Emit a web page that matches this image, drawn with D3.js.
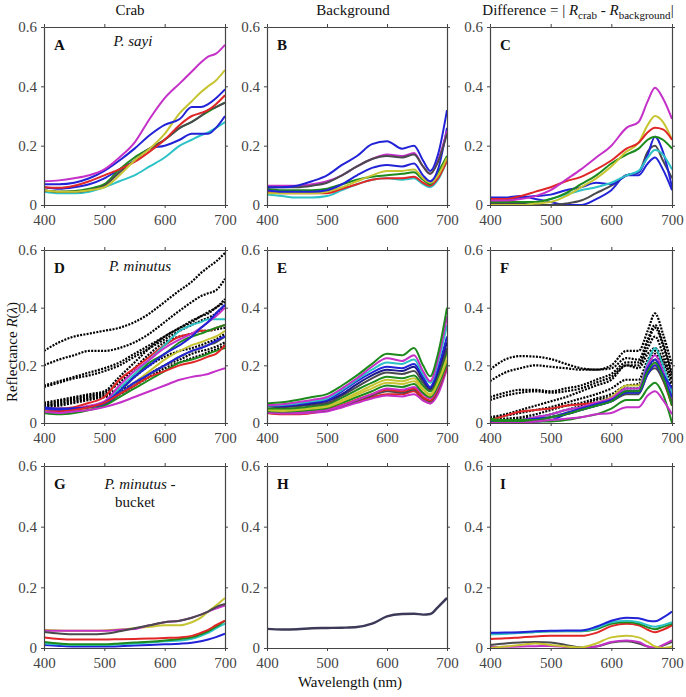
<!DOCTYPE html>
<html><head><meta charset="utf-8">
<script src="https://cdn.jsdelivr.net/npm/d3@7"></script>
<style>body{margin:0;background:#fff} svg text{font-family:"Liberation Serif","LiberationSerif","Tinos","Times New Roman","DejaVu Serif","Noto Serif",serif !important}</style>
</head><body><svg id="c" width="686" height="697"></svg>
<script>
// Wavelength sample points (nm)
const wavelengths = [400,425,450,475,500,525,550,575,600,625,645,660,672,685,700];
const xTicks = [400,500,600,700];
const yTicks = [0,0.2,0.4,0.6];
const colTitles = ["Crab","Background","Difference"];
const panelLetters = ["A","B","C","D","E","F","G","H","I"];

// Panel A: P. sayi crab
const panelA = [
 ["cyan",   [0.045,0.04,0.04,0.045,0.06,0.08,0.10,0.13,0.16,0.20,0.22,0.235,0.245,0.26,0.28]],
 ["blue",   [0.06,0.055,0.06,0.07,0.09,0.12,0.15,0.19,0.20,0.22,0.24,0.24,0.24,0.26,0.30]],
 ["green",  [0.05,0.045,0.047,0.055,0.07,0.12,0.16,0.19,0.22,0.26,0.28,0.30,0.315,0.33,0.345]],
 ["gray",   [0.05,0.045,0.045,0.05,0.065,0.11,0.15,0.19,0.22,0.26,0.28,0.30,0.32,0.33,0.345]],
 ["red",    [0.06,0.058,0.065,0.08,0.10,0.12,0.145,0.18,0.22,0.27,0.30,0.31,0.32,0.34,0.37]],
 ["yellow", [0.05,0.045,0.045,0.05,0.06,0.10,0.15,0.19,0.24,0.31,0.35,0.38,0.40,0.42,0.455]],
 ["blue",   [0.07,0.07,0.075,0.09,0.115,0.15,0.19,0.235,0.27,0.29,0.33,0.33,0.34,0.36,0.39]],
 ["magenta",[0.08,0.083,0.09,0.10,0.12,0.16,0.21,0.29,0.36,0.41,0.45,0.48,0.50,0.51,0.54]]
];
// Panel B: background for P. sayi
const panelB = [
 ["cyan",   [0.035,0.03,0.025,0.025,0.03,0.05,0.07,0.085,0.09,0.085,0.09,0.07,0.06,0.085,0.15]],
 ["red",    [0.045,0.04,0.04,0.04,0.04,0.055,0.07,0.085,0.09,0.09,0.095,0.075,0.065,0.09,0.15]],
 ["green",  [0.055,0.05,0.05,0.05,0.055,0.07,0.085,0.095,0.10,0.105,0.11,0.085,0.07,0.11,0.165]],
 ["yellow", [0.04,0.04,0.04,0.04,0.045,0.06,0.08,0.10,0.115,0.115,0.12,0.09,0.075,0.10,0.16]],
 ["blue",   [0.05,0.045,0.045,0.045,0.05,0.07,0.10,0.125,0.135,0.13,0.14,0.10,0.08,0.12,0.26]],
 ["magenta",[0.065,0.065,0.065,0.07,0.08,0.10,0.13,0.155,0.17,0.165,0.175,0.13,0.105,0.15,0.25]],
 ["gray",   [0.06,0.06,0.06,0.065,0.075,0.10,0.13,0.155,0.165,0.16,0.17,0.13,0.105,0.145,0.24]],
 ["blue",   [0.06,0.06,0.065,0.08,0.10,0.135,0.165,0.205,0.215,0.19,0.20,0.15,0.115,0.17,0.32]]
];
// Panel C: difference for P. sayi
const panelC = [
 ["blue",   [0.025,0.025,0.03,0.02,0.01,0.0,0.0,0.02,0.05,0.10,0.10,0.14,0.16,0.12,0.05]],
 ["gray",   [0.005,0.005,0.005,0.0,0.0,0.005,0.015,0.04,0.065,0.10,0.11,0.18,0.20,0.15,0.09]],
 ["blue",   [0.02,0.02,0.025,0.03,0.035,0.05,0.06,0.075,0.07,0.10,0.11,0.17,0.23,0.18,0.06]],
 ["cyan",   [0.01,0.01,0.01,0.01,0.02,0.035,0.05,0.06,0.075,0.10,0.115,0.16,0.185,0.17,0.12]],
 ["green",  [0.01,0.01,0.01,0.01,0.02,0.04,0.07,0.10,0.14,0.17,0.19,0.22,0.23,0.22,0.19]],
 ["yellow", [0.0,0.0,0.0,0.005,0.01,0.03,0.06,0.09,0.13,0.18,0.21,0.27,0.30,0.28,0.22]],
 ["red",    [0.02,0.02,0.03,0.045,0.06,0.08,0.095,0.12,0.15,0.19,0.21,0.245,0.26,0.255,0.22]],
 ["magenta",[0.015,0.015,0.02,0.03,0.05,0.085,0.12,0.16,0.20,0.26,0.28,0.35,0.395,0.36,0.29]]
];
// Panel D: P. minutus crab (black dotted + coloured)
const panelD = [
 ["black",  [0.25,0.28,0.30,0.31,0.32,0.33,0.35,0.38,0.42,0.46,0.49,0.52,0.54,0.56,0.59]],
 ["black",  [0.20,0.22,0.235,0.25,0.25,0.26,0.28,0.31,0.35,0.39,0.42,0.44,0.45,0.46,0.50]],
 ["black",  [0.13,0.145,0.16,0.175,0.19,0.21,0.24,0.27,0.30,0.33,0.355,0.37,0.385,0.40,0.43]],
 ["black",  [0.125,0.14,0.155,0.165,0.18,0.20,0.23,0.26,0.29,0.32,0.34,0.355,0.365,0.38,0.41]],
 ["black",  [0.07,0.08,0.09,0.10,0.11,0.16,0.21,0.26,0.30,0.33,0.35,0.37,0.38,0.40,0.42]],
 ["black",  [0.065,0.075,0.085,0.095,0.105,0.14,0.19,0.24,0.28,0.30,0.31,0.32,0.32,0.325,0.33]],
 ["black",  [0.06,0.07,0.08,0.09,0.10,0.12,0.16,0.20,0.23,0.25,0.26,0.27,0.28,0.29,0.31]],
 ["black",  [0.06,0.065,0.075,0.085,0.095,0.11,0.14,0.17,0.20,0.22,0.24,0.25,0.255,0.265,0.28]],
 ["black",  [0.055,0.06,0.07,0.08,0.09,0.10,0.13,0.16,0.19,0.21,0.225,0.235,0.245,0.255,0.27]],
 ["red",    [0.05,0.05,0.055,0.07,0.09,0.15,0.19,0.23,0.27,0.30,0.31,0.32,0.32,0.33,0.34]],
 ["cyan",   [0.045,0.04,0.045,0.055,0.07,0.12,0.17,0.22,0.27,0.32,0.34,0.35,0.36,0.36,0.36]],
 ["green",  [0.045,0.045,0.05,0.055,0.065,0.11,0.16,0.21,0.24,0.28,0.30,0.31,0.32,0.33,0.34]],
 ["yellow", [0.045,0.04,0.045,0.05,0.065,0.10,0.14,0.18,0.22,0.25,0.27,0.28,0.29,0.30,0.32]],
 ["gray",   [0.05,0.045,0.05,0.055,0.07,0.10,0.13,0.17,0.20,0.23,0.25,0.26,0.27,0.28,0.30]],
 ["magenta",[0.05,0.045,0.05,0.06,0.075,0.13,0.18,0.22,0.26,0.29,0.31,0.33,0.35,0.37,0.40]],
 ["blue",   [0.055,0.05,0.05,0.055,0.07,0.11,0.16,0.20,0.24,0.27,0.30,0.33,0.35,0.38,0.41]],
 ["blue",   [0.05,0.045,0.05,0.055,0.065,0.10,0.14,0.17,0.20,0.23,0.25,0.26,0.27,0.285,0.30]],
 ["green",  [0.035,0.03,0.035,0.045,0.06,0.09,0.12,0.15,0.18,0.21,0.22,0.23,0.24,0.25,0.26]],
 ["red",    [0.04,0.04,0.045,0.055,0.07,0.10,0.13,0.16,0.18,0.20,0.21,0.22,0.23,0.24,0.27]],
 ["magenta",[0.04,0.035,0.04,0.045,0.055,0.07,0.09,0.11,0.13,0.15,0.16,0.165,0.17,0.18,0.19]]
];
// Panel E: background for P. minutus
const panelE = [
 ["red",    [0.035,0.03,0.03,0.035,0.045,0.06,0.075,0.09,0.10,0.10,0.11,0.08,0.068,0.11,0.19]],
 ["magenta",[0.036,0.033,0.033,0.036,0.04,0.054,0.07,0.085,0.095,0.092,0.10,0.078,0.068,0.10,0.19]],
 ["gray",   [0.04,0.038,0.038,0.04,0.045,0.06,0.078,0.095,0.11,0.105,0.115,0.088,0.075,0.115,0.20]],
 ["red",    [0.045,0.04,0.04,0.042,0.048,0.063,0.082,0.10,0.115,0.11,0.12,0.09,0.078,0.12,0.20]],
 ["magenta",[0.04,0.036,0.035,0.04,0.045,0.06,0.08,0.10,0.12,0.115,0.125,0.10,0.085,0.125,0.21]],
 ["green",  [0.042,0.04,0.042,0.046,0.052,0.07,0.09,0.11,0.13,0.125,0.135,0.105,0.09,0.13,0.21]],
 ["yellow", [0.045,0.042,0.045,0.05,0.056,0.075,0.098,0.12,0.14,0.135,0.145,0.115,0.095,0.14,0.22]],
 ["yellow", [0.048,0.045,0.048,0.052,0.06,0.08,0.105,0.13,0.15,0.145,0.155,0.12,0.10,0.15,0.24]],
 ["green",  [0.05,0.05,0.052,0.058,0.065,0.088,0.115,0.14,0.16,0.155,0.165,0.13,0.11,0.16,0.25]],
 ["gray",   [0.058,0.055,0.058,0.063,0.07,0.095,0.125,0.155,0.175,0.17,0.18,0.14,0.115,0.17,0.26]],
 ["navy",   [0.06,0.058,0.062,0.068,0.076,0.10,0.135,0.165,0.185,0.18,0.195,0.15,0.12,0.18,0.28]],
 ["blue",   [0.064,0.06,0.065,0.072,0.08,0.11,0.145,0.175,0.195,0.19,0.205,0.16,0.125,0.19,0.30]],
 ["cyan",   [0.06,0.062,0.068,0.075,0.085,0.115,0.15,0.185,0.21,0.205,0.22,0.17,0.14,0.21,0.34]],
 ["magenta",[0.062,0.065,0.072,0.08,0.09,0.12,0.155,0.195,0.225,0.215,0.235,0.18,0.145,0.22,0.37]],
 ["green",  [0.068,0.072,0.08,0.09,0.10,0.13,0.165,0.205,0.24,0.235,0.26,0.20,0.162,0.24,0.40]]
];
// Panel F: difference for P. minutus
const panelF = [
 ["black",  [0.185,0.22,0.232,0.23,0.222,0.205,0.19,0.185,0.20,0.25,0.25,0.32,0.38,0.31,0.20]],
 ["black",  [0.145,0.175,0.19,0.20,0.195,0.19,0.185,0.185,0.19,0.225,0.22,0.29,0.34,0.28,0.17]],
 ["black",  [0.09,0.105,0.115,0.115,0.11,0.12,0.13,0.15,0.17,0.21,0.21,0.28,0.33,0.27,0.16]],
 ["black",  [0.08,0.095,0.105,0.11,0.105,0.11,0.12,0.14,0.16,0.20,0.20,0.26,0.30,0.24,0.14]],
 ["black",  [0.02,0.03,0.045,0.06,0.075,0.09,0.11,0.13,0.15,0.20,0.19,0.24,0.26,0.22,0.15]],
 ["black",  [0.015,0.025,0.035,0.045,0.055,0.07,0.085,0.10,0.12,0.15,0.15,0.22,0.25,0.21,0.12]],
 ["black",  [0.01,0.015,0.02,0.03,0.045,0.06,0.07,0.085,0.10,0.13,0.135,0.20,0.24,0.19,0.10]],
 ["black",  [0.005,0.01,0.015,0.02,0.03,0.045,0.06,0.08,0.09,0.12,0.12,0.19,0.22,0.17,0.08]],
 ["red",    [0.01,0.025,0.04,0.045,0.05,0.06,0.065,0.07,0.08,0.11,0.11,0.17,0.20,0.15,0.06]],
 ["yellow", [0.005,0.005,0.01,0.015,0.02,0.035,0.05,0.07,0.09,0.13,0.13,0.20,0.22,0.17,0.08]],
 ["cyan",   [0.01,0.005,0.01,0.02,0.03,0.045,0.055,0.065,0.08,0.12,0.12,0.21,0.26,0.20,0.10]],
 ["magenta",[0.005,0.005,0.01,0.02,0.03,0.045,0.055,0.07,0.085,0.12,0.12,0.20,0.235,0.18,0.08]],
 ["gray",   [0.005,0.005,0.005,0.01,0.02,0.03,0.045,0.06,0.075,0.10,0.10,0.17,0.19,0.15,0.07]],
 ["blue",   [0.01,0.01,0.01,0.015,0.02,0.035,0.05,0.065,0.08,0.11,0.11,0.19,0.22,0.17,0.12]],
 ["blue",   [0.005,0.0,0.0,0.005,0.01,0.03,0.045,0.06,0.075,0.105,0.105,0.17,0.20,0.16,0.09]],
 ["green",  [0.015,0.01,0.01,0.01,0.02,0.03,0.045,0.06,0.075,0.11,0.11,0.18,0.21,0.16,0.06]],
 ["green",  [0.01,0.005,0.005,0.005,0.005,0.01,0.02,0.03,0.05,0.08,0.08,0.12,0.14,0.10,0.0]],
 ["magenta",[0.0,0.0,0.0,0.005,0.01,0.015,0.02,0.03,0.035,0.055,0.055,0.095,0.11,0.08,0.03]]
];
// Panel G: P. minutus - bucket crab
const panelG = [
 ["blue",   [0.01,0.007,0.005,0.005,0.005,0.006,0.008,0.01,0.012,0.014,0.017,0.022,0.028,0.036,0.047]],
 ["cyan",   [0.015,0.012,0.01,0.01,0.01,0.012,0.015,0.018,0.022,0.025,0.03,0.04,0.05,0.065,0.08]],
 ["green",  [0.02,0.015,0.012,0.012,0.012,0.015,0.018,0.021,0.025,0.03,0.035,0.045,0.055,0.07,0.09]],
 ["red",    [0.035,0.03,0.028,0.028,0.028,0.029,0.03,0.031,0.033,0.035,0.04,0.05,0.06,0.075,0.09]],
 ["yellow", [0.06,0.058,0.057,0.057,0.058,0.061,0.065,0.07,0.075,0.075,0.085,0.10,0.12,0.14,0.165]],
 ["magenta",[0.058,0.057,0.057,0.057,0.057,0.06,0.063,0.075,0.085,0.09,0.10,0.11,0.12,0.13,0.14]],
 ["gray",   [0.053,0.048,0.045,0.045,0.047,0.055,0.065,0.075,0.085,0.09,0.10,0.11,0.12,0.135,0.145]]
];
// Panel H: bucket background
const panelH = [
 ["dark",   [0.063,0.061,0.062,0.065,0.066,0.067,0.069,0.08,0.104,0.112,0.113,0.11,0.112,0.135,0.165]]
];
// Panel I: difference for bucket
const panelI = [
 ["gray",   [0.01,0.015,0.018,0.02,0.018,0.01,0.002,0.005,0.018,0.022,0.015,0.005,0.0,0.008,0.02]],
 ["magenta",[0.003,0.004,0.005,0.006,0.007,0.003,0.0,0.005,0.02,0.025,0.02,0.005,0.0,0.01,0.025]],
 ["yellow", [0.0,0.005,0.01,0.015,0.01,0.005,0.002,0.015,0.035,0.04,0.035,0.02,0.005,0.0,0.005]],
 ["red",    [0.03,0.032,0.035,0.038,0.04,0.04,0.04,0.05,0.072,0.08,0.075,0.06,0.052,0.06,0.075]],
 ["green",  [0.048,0.049,0.05,0.053,0.055,0.055,0.055,0.062,0.08,0.085,0.08,0.068,0.062,0.07,0.08]],
 ["cyan",   [0.045,0.047,0.05,0.053,0.055,0.056,0.056,0.065,0.085,0.09,0.085,0.075,0.07,0.075,0.085]],
 ["blue",   [0.05,0.051,0.052,0.055,0.057,0.058,0.058,0.07,0.09,0.10,0.098,0.09,0.088,0.10,0.12]]
];

const colors = {blue:"#2222d6", navy:"#1a1a8c", red:"#e02626", green:"#1c8a1c", cyan:"#2cc2c6",
  magenta:"#c430c8", yellow:"#c6c430", gray:"#4a4a4e", dark:"#3c3a58", black:"#000000"};

const colsX = [[44,225],[267,447],[490,672]];
const rowsY = [[27,205],[250,423],[466,648]];
const allPanels = [panelA,panelB,panelC,panelD,panelE,panelF,panelG,panelH,panelI];
const FONT = "'Liberation Serif','LiberationSerif','Tinos','Times New Roman','DejaVu Serif','Noto Serif',serif";

const svg = d3.select("#c").attr("font-family", FONT);
const defs = svg.append("defs");

allPanels.forEach((series, i) => {
  const r = Math.floor(i/3), c = i%3;
  const [x0,x1] = colsX[c], [y0,y1] = rowsY[r];
  const x = d3.scaleLinear().domain([400,700]).range([x0,x1]);
  const y = d3.scaleLinear().domain([0,0.6]).range([y1,y0]);
  const g = svg.append("g");
  defs.append("clipPath").attr("id","cp"+i).append("rect")
    .attr("x",x0).attr("y",y0).attr("width",x1-x0).attr("height",y1-y0);
  const line = d3.line().x((d,k)=>x(wavelengths[k])).y(d=>y(d)).curve(d3.curveMonotoneX);
  const lg = g.append("g").attr("clip-path","url(#cp"+i+")");
  series.forEach(([col, vals]) => {
    const p = lg.append("path").attr("d", line(vals)).attr("fill","none")
      .attr("stroke", colors[col]).attr("stroke-width", col==="dark"?2.4:2);
    if (col==="black") p.attr("stroke-dasharray","2,1.3").attr("stroke-width",2.2);
  });
  const axStyle = a => {
    a.attr("font-family", FONT);
    a.selectAll("path").attr("stroke","#444").attr("stroke-width",1.2);
    a.selectAll("line").attr("stroke","#444");
    a.selectAll("text").attr("fill","#444").style("font-size","15px");
  };
  g.append("g").attr("transform",`translate(0,${y1})`)
    .call(d3.axisBottom(x).tickValues(xTicks).tickSize(3).tickPadding(6).tickSizeOuter(0)).call(axStyle);
  g.append("g").attr("transform",`translate(0,${y0})`)
    .call(d3.axisTop(x).tickValues(xTicks).tickSize(3).tickFormat("").tickSizeOuter(0)).call(axStyle);
  g.append("g").attr("transform",`translate(${x0},0)`)
    .call(d3.axisLeft(y).tickValues(yTicks).tickSize(3).tickPadding(4).tickSizeOuter(0)
      .tickFormat(d=>d===0?"0":d.toFixed(1))).call(axStyle);
  g.append("g").attr("transform",`translate(${x1},0)`)
    .call(d3.axisRight(y).tickValues(yTicks).tickSize(3).tickFormat("").tickSizeOuter(0)).call(axStyle);
  g.append("text").attr("x",x0+10).attr("y",y0+23).text(panelLetters[i])
    .style("font-weight","bold").style("font-size","15px").attr("fill","#111");
});

const lab = (x,y,t,italic) => svg.append("text").attr("x",x).attr("y",y).attr("text-anchor","middle")
  .style("font-size","15px").style("font-style",italic?"italic":"normal").attr("fill","#111").text(t);
lab(133,46,"P. sayi",true);
lab(140,271,"P. minutus",true);
const gl = svg.append("text").attr("x",140).attr("y",489).attr("text-anchor","middle").style("font-size","15px").attr("fill","#111");
gl.append("tspan").style("font-style","italic").text("P. minutus");
gl.append("tspan").text(" -");
lab(135,507,"bucket",false);

lab(130,15,colTitles[0],false);
lab(353,15,colTitles[1],false);
const t3 = svg.append("text").attr("x",578).attr("y",15).attr("text-anchor","middle").style("font-size","15px").attr("fill","#111");
t3.append("tspan").text(colTitles[2]+" = | ");
t3.append("tspan").style("font-style","italic").text("R");
t3.append("tspan").attr("dy",4).style("font-size","11px").text("crab");
t3.append("tspan").attr("dy",-4).text(" - ");
t3.append("tspan").style("font-style","italic").text("R");
t3.append("tspan").attr("dy",4).style("font-size","11px").text("background");
t3.append("tspan").attr("dy",-4).text("|");

const yl = svg.append("text").attr("transform","translate(17,352) rotate(-90)").attr("text-anchor","middle")
  .style("font-size","15px").attr("fill","#111");
yl.append("tspan").text("Reflectance ");
yl.append("tspan").style("font-style","italic").text("R");
yl.append("tspan").text("(");
yl.append("tspan").style("font-style","italic").text("λ");
yl.append("tspan").text(")");
svg.append("text").attr("x",350).attr("y",687).attr("text-anchor","middle").style("font-size","15px")
  .attr("fill","#111").text("Wavelength (nm)");
</script></body></html>
